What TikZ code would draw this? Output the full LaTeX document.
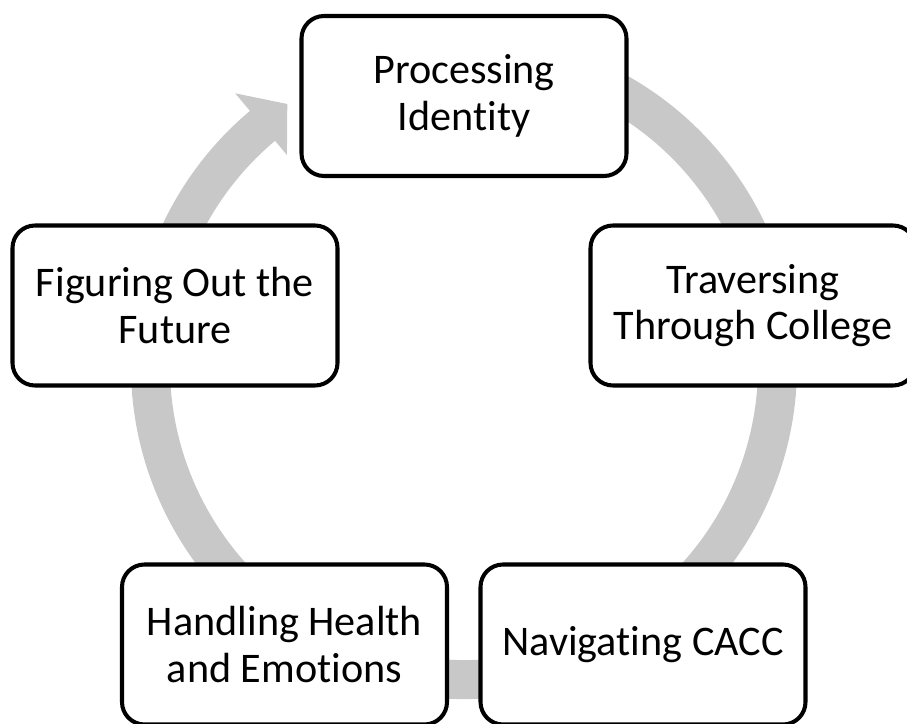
\documentclass[tikz,border=0pt]{standalone}
\usepackage{fontspec}
\setmainfont[Ligatures=NoCommon]{Carlito}

\definecolor{ringgray}{RGB}{200,200,200}

\tikzset{
  stage/.style={draw=black, line width=2.3pt, rounded corners=0.45cm, fill=white,
    minimum width=6.5cm, minimum height=3.2cm, align=center,
    font=\fontsize{24}{26.5}\selectfont}
}

\begin{document}
\begin{tikzpicture}
\useasboundingbox (0,0) rectangle (18.14,14.46);
\clip (0,0) rectangle (18.14,14.46);

% cycle ring with its head
\coordinate (c) at (9.28,7.14);
\draw [ringgray, line width=0.78cm] (c) ++(75:6.27) arc [start angle=75, end angle=-230.3, radius=6.27];
\fill [ringgray, shift={(c)}] (130:6.66) -- (130:7.12) -- (124:6.32) -- (130:5.51) -- (130:5.88) -- cycle;

\node [stage] (identity) at (9.28,12.54) {Processing\\Identity};
\node [stage] (college) at (15.06,8.35) {Traversing\\Through College};
\node [stage] (cacc) at (12.86,1.57) {Navigating CACC};
\node [stage] (health) at (5.69,1.57) {Handling Health\\and Emotions};
\node [stage] (future) at (3.50,8.35) {Figuring Out the\\Future};
\end{tikzpicture}
\end{document}
